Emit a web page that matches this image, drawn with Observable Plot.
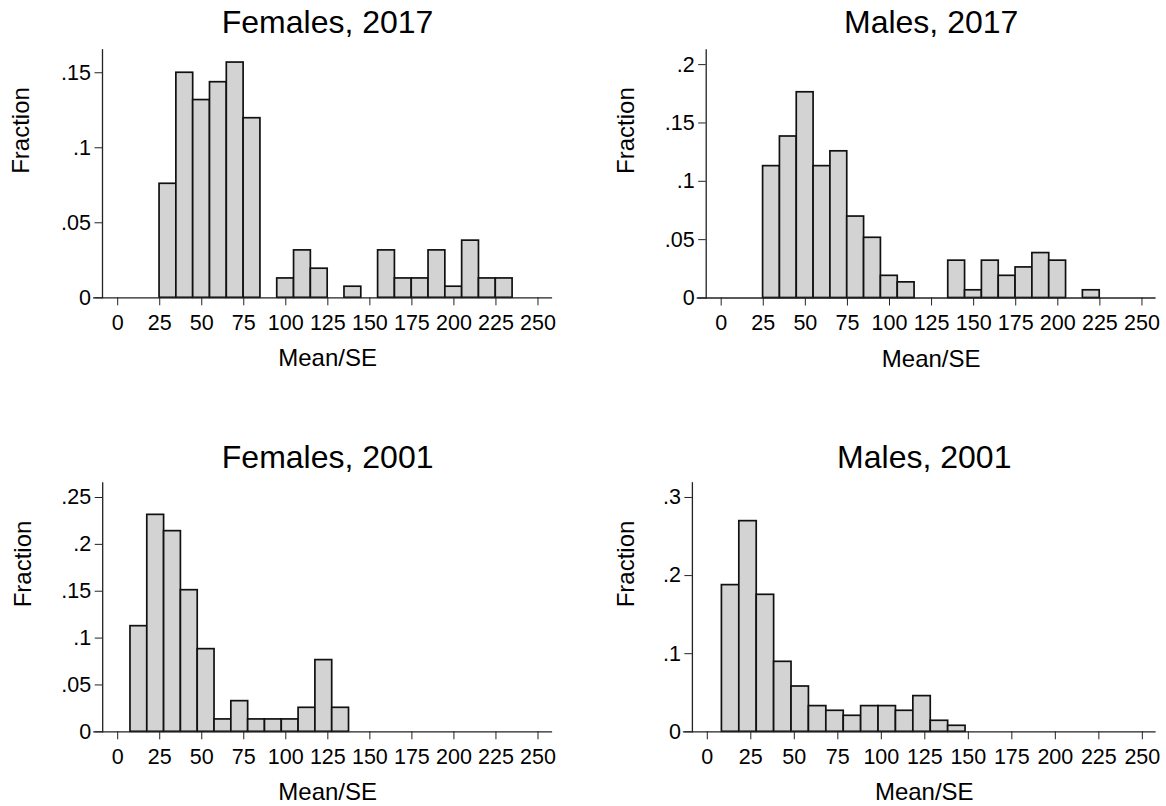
<!DOCTYPE html>
<html><head><meta charset="utf-8">
<script src="https://cdn.jsdelivr.net/npm/d3@7"></script>
<script src="https://cdn.jsdelivr.net/npm/@observablehq/plot@0.6"></script>
<style>
body{margin:0;background:#fff}
#chart{position:relative;width:1166px;height:806px;background:#fff}
#chart svg{position:absolute}
</style>
</head><body><div id="chart"></div>
<script>
// ---------- data ----------
const xTicks = [0, 25, 50, 75, 100, 125, 150, 175, 200, 225, 250];
const xLabel = "Mean/SE";
const yLabel = "Fraction";
const titles = ["Females, 2017", "Males, 2017", "Females, 2001", "Males, 2001"];

const females2017Start = 24.9, females2017Width = 10;
const females2017 = [0.076, 0.150, 0.1318, 0.1437, 0.1568, 0.1197, 0, 0.0129, 0.0316, 0.0194, 0,
  0.0074, 0, 0.0316, 0.0129, 0.0129, 0.0316, 0.0074, 0.0381, 0.0129, 0.0129];
const females2017YTicks = [0, 0.05, 0.1, 0.15];

const males2017Start = 24.9, males2017Width = 10;
const males2017 = [0.113, 0.1384, 0.1763, 0.113, 0.1257, 0.0698, 0.0516, 0.019, 0.0134, 0, 0,
  0.032, 0.0066, 0.032, 0.019, 0.0262, 0.0385, 0.032, 0, 0.0066];
const males2017YTicks = [0, 0.05, 0.1, 0.15, 0.2];

const females2001Start = 7.6, females2001Width = 10;
const females2001 = [0.1127, 0.2315, 0.2141, 0.1511, 0.0882, 0.0132, 0.0327, 0.0132, 0.0132,
  0.0132, 0.0256, 0.0765, 0.0256];
const females2001YTicks = [0, 0.05, 0.1, 0.15, 0.2, 0.25];

const males2001Start = 8.4, males2001Width = 10;
const males2001 = [0.1878, 0.2697, 0.1754, 0.0896, 0.058, 0.0329, 0.0269, 0.0205, 0.0329,
  0.0329, 0.0269, 0.0457, 0.0141, 0.0077];
const males2001YTicks = [0, 0.1, 0.2, 0.3];

// ---------- helpers ----------
function toBins(start, width, fractions) {
  return fractions
    .map((f, i) => ({x1: start + i * width, x2: start + (i + 1) * width, f}))
    .filter(d => d.f > 0);
}
const fmtY = d => d === 0 ? "0" : String(+d.toFixed(3)).replace(/^0\./, ".");
const FONT = "'Liberation Sans', Arial, Helvetica, sans-serif";

const panels = [
  {title: titles[0], bins: toBins(females2017Start, females2017Width, females2017), yTicks: females2017YTicks,
   left: 0, top: 0, mL: 102, mR: 30.9, mT: 49.3, mB: 105.7, xd: [-9.04, 258.7], yMax: 0.1653, tDy: -16.5, lDy: 68.6, fDx: -81},
  {title: titles[1], bins: toBins(males2017Start, males2017Width, males2017), yTicks: males2017YTicks,
   left: 583, top: 0, mL: 122.7, mR: 10.4, mT: 49.3, mB: 105.5, xd: [-8.9, 258.4], yMax: 0.2127, tDy: -16.5, lDy: 68.6, fDx: -80},
  {title: titles[2], bins: toBins(females2001Start, females2001Width, females2001), yTicks: females2001YTicks,
   left: 0, top: 403, mL: 102.2, mR: 30.9, mT: 79.3, mB: 74.7, xd: [-8.92, 258.7], yMax: 0.2657, tDy: -15.3, lDy: 67.9, fDx: -79.5},
  {title: titles[3], bins: toBins(males2001Start, males2001Width, males2001), yTicks: males2001YTicks,
   left: 583, top: 403, mL: 108.9, mR: 10.4, mT: 79.3, mB: 74.7, xd: [-8.56, 257.9], yMax: 0.3188, tDy: -15.3, lDy: 67.9, fDx: -66.5}
];

const chart = document.getElementById("chart");
for (const p of panels) {
  const svg = Plot.plot({
    width: 583, height: 403,
    marginLeft: p.mL, marginRight: p.mR, marginTop: p.mT, marginBottom: p.mB,
    style: {fontFamily: FONT, color: "#000", background: "transparent", overflow: "visible"},
    x: {domain: p.xd},
    y: {domain: [0, p.yMax]},
    marks: [
      Plot.rectY(p.bins, {x1: "x1", x2: "x2", y: "f", fill: "#d3d3d3", stroke: "#111", strokeWidth: 1.7}),
      Plot.ruleY([0], {stroke: "#222", strokeWidth: 1.3, insetLeft: -9}),
      Plot.frame({anchor: "left", stroke: "#222", strokeWidth: 1.3}),
      Plot.axisX(xTicks, {tickSize: 8, tickPadding: 9, fontSize: 21.5, label: null, stroke: "#222"}),
      Plot.axisY(p.yTicks, {tickSize: 7.5, tickPadding: 4, fontSize: 21.5, tickFormat: fmtY, label: null, stroke: "#222"}),
      Plot.text([p.title], {frameAnchor: "top", lineAnchor: "bottom", dy: p.tDy, fontSize: 32, fill: "#000"}),
      Plot.text([xLabel], {frameAnchor: "bottom", lineAnchor: "bottom", dy: p.lDy, fontSize: 24, fill: "#000"}),
      Plot.text([yLabel], {frameAnchor: "left", rotate: -90, lineAnchor: "middle", dx: p.fDx, fontSize: 24, fill: "#000"})
    ]
  });
  svg.style.left = p.left + "px";
  svg.style.top = p.top + "px";
  chart.appendChild(svg);
}
</script>
</body></html>
